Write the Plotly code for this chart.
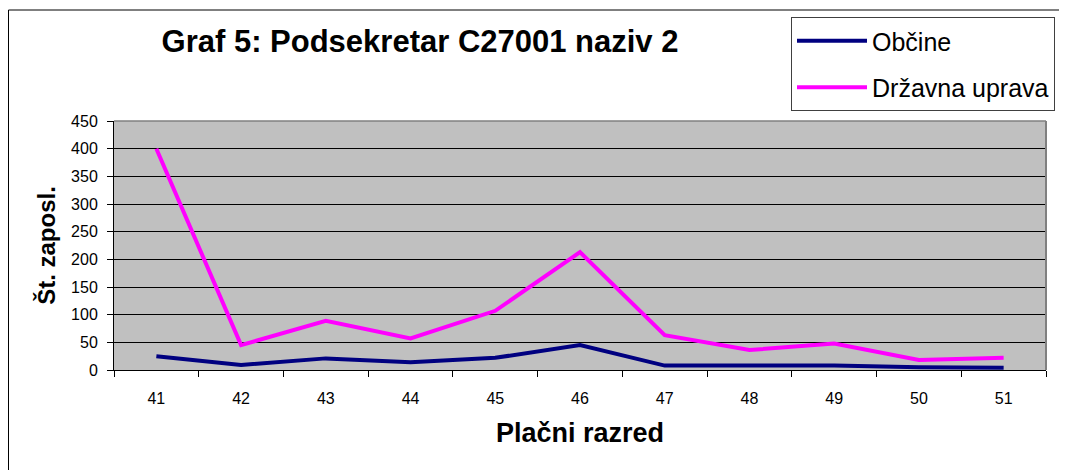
import plotly.graph_objects as go

categories = ["41", "42", "43", "44", "45", "46", "47", "48", "49", "50", "51"]
obcine = [25, 9, 21, 14, 22, 45, 8, 8, 8, 5, 4]
drzavna = [400, 45, 89, 57, 107, 213, 63, 36, 48, 18, 22]
y_ticks = [0, 50, 100, 150, 200, 250, 300, 350, 400, 450]

# page body has an 8px margin; the figure is sized to fill the rest of the window
OFF = 8
W, H = 1067 - OFF, 470 - OFF
# plot area in window pixels: x 114..1046, y 121..370
L = 114 - OFF
T = 121 - OFF
R = W - (1046 - OFF)
B = H - (370 - OFF)
pw, ph = W - L - R, H - T - B

def px(x):  # window pixel x -> paper
    return (x - OFF - L) / pw

def py(y):  # window pixel y -> paper
    return (H - B - (y - OFF)) / ph

FONT = "Liberation Sans, Arial, sans-serif"

fig = go.Figure()
fig.add_trace(go.Scatter(x=categories, y=obcine, mode="lines", name="Občine",
                         line=dict(color="#000080", width=4), legendgroup="a"))
fig.add_trace(go.Scatter(x=categories, y=drzavna, mode="lines", name="Državna uprava",
                         line=dict(color="#FF00FF", width=4), legendgroup="b"))

fig.update_layout(
    width=W, height=H,
    margin=dict(l=L, r=R, t=T, b=B, autoexpand=False),
    paper_bgcolor="white",
    plot_bgcolor="#C0C0C0",
    font=dict(family=FONT, color="black"),
    title=dict(text="<b>Graf 5: Podsekretar C27001 naziv 2</b>",
               x=(420 - OFF) / W, xref="container", xanchor="center",
               y=1 - (41 - OFF) / H, yref="container", yanchor="middle",
               font=dict(size=31, family=FONT, color="black")),
    showlegend=True,
    legend=dict(x=px(791), xanchor="left", y=py(17), yanchor="top",
                xref="paper", yref="paper",
                bgcolor="white", bordercolor="#404040", borderwidth=1,
                font=dict(size=25, family=FONT, color="black"),
                traceorder="grouped", tracegroupgap=11, itemwidth=70),
    xaxis=dict(type="category", range=[-0.5, 10.5], showgrid=False,
               showline=True, linecolor="black", linewidth=1,
               ticks="outside", ticklen=6, tickcolor="black", tickson="boundaries",
               tickfont=dict(size=16, family=FONT), ticklabelstandoff=14,
               title=dict(text="<b>Plačni razred</b>", font=dict(size=27, family=FONT), standoff=16),
               zeroline=False, fixedrange=True),
    yaxis=dict(range=[0, 450], tickvals=y_ticks, showgrid=True, gridcolor="black", gridwidth=1,
               showline=True, linecolor="black", linewidth=1,
               ticks="outside", ticklen=6, tickcolor="black",
               tickfont=dict(size=16, family=FONT), ticklabelstandoff=6,
               title=dict(text="<b>Št. zaposl.</b>", font=dict(size=24, family=FONT), standoff=8),
               zeroline=False, fixedrange=True),
    shapes=[
        # plot area top/right border (gray)
        dict(type="line", xref="paper", yref="paper", x0=0, x1=1, y0=1, y1=1,
             line=dict(color="#808080", width=1.5)),
        dict(type="line", xref="paper", yref="paper", x0=1, x1=1, y0=0, y1=1,
             line=dict(color="#808080", width=2)),
        # chart outer border (top and left)
        dict(type="line", xref="paper", yref="paper", x0=px(OFF + 0.5), x1=px(1080), y0=py(10), y1=py(10),
             line=dict(color="black", width=1)),
        dict(type="line", xref="paper", yref="paper", x0=px(OFF + 0.5), x1=px(OFF + 0.5), y0=py(10), y1=py(480),
             line=dict(color="black", width=1)),
    ],
)

fig.write_html("out.html")
